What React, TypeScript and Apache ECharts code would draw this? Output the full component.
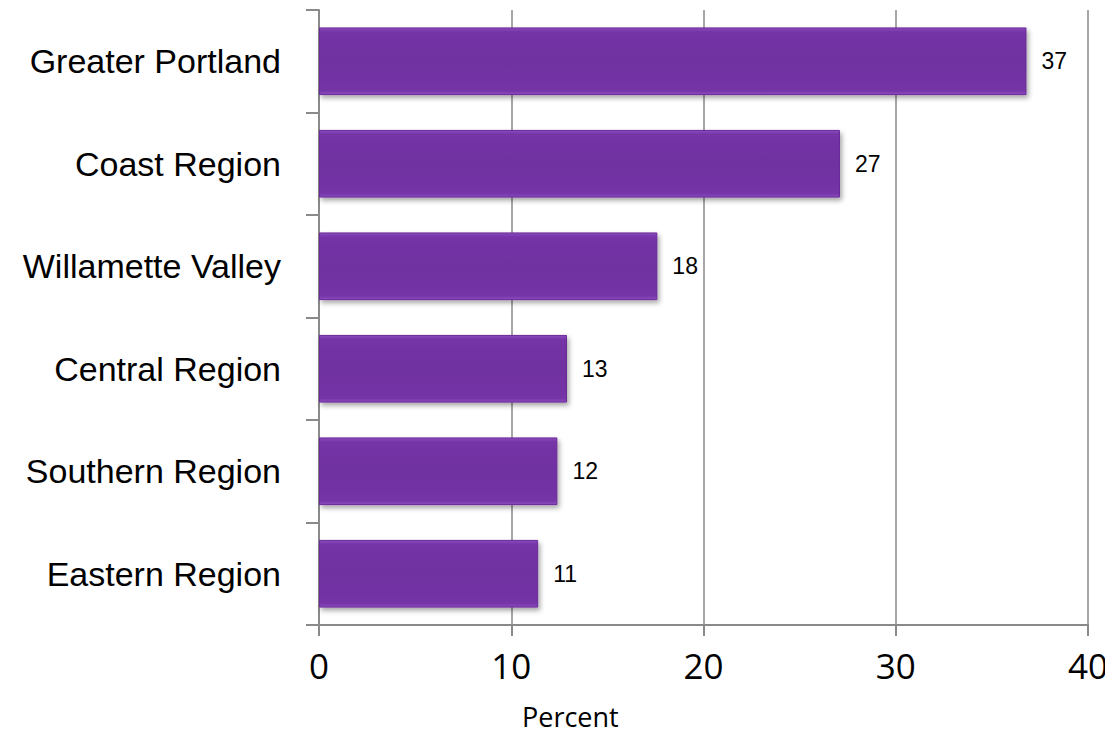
import React, { useEffect, useRef } from "react";
import * as echarts from "echarts";

const categories = [
  "Greater Portland",
  "Coast Region",
  "Willamette Valley",
  "Central Region",
  "Southern Region",
  "Eastern Region",
];
const percentValues = [36.8, 27.1, 17.6, 12.9, 12.4, 11.4];
const xTicks = [0, 10, 20, 30, 40];
const xAxisName = "Percent";

const ARIAL = "'Liberation Sans', Arial, sans-serif";

export default function App() {
  const ref = useRef<HTMLDivElement>(null);
  useEffect(() => {
    if (!ref.current) return;
    const chart = echarts.init(ref.current, null, { renderer: "svg" });
    chart.setOption({
      animation: false,
      grid: { left: 319, right: 25, top: 10, bottom: 110, containLabel: false },
      graphic: [
        {
          type: "text",
          left: 522,
          top: 703,
          style: { text: xAxisName, font: "27px 'Open Sans'", fill: "#000" },
        },
      ],
      xAxis: {
        type: "value",
        min: xTicks[0],
        max: xTicks[xTicks.length - 1],
        interval: 10,
        axisLine: { show: true, lineStyle: { color: "#8a8a8a", width: 2 } },
        axisTick: { show: true, length: 11, lineStyle: { color: "#8a8a8a", width: 2 } },
        axisLabel: { fontFamily: "Open Sans", fontSize: 35, color: "#000", margin: 23 },
        splitLine: { show: true, lineStyle: { color: "#8a8a8a", width: 1.5 } },
      },
      yAxis: {
        type: "category",
        data: categories,
        inverse: true,
        axisLine: { show: true, lineStyle: { color: "#8a8a8a", width: 2 } },
        axisTick: { show: true, length: 13, alignWithLabel: false, lineStyle: { color: "#8a8a8a", width: 2 } },
        axisLabel: {
          fontFamily: ARIAL,
          fontSize: 34,
          color: "#000",
          margin: 38,
        },
        splitLine: { show: false },
      },
      series: [
        {
          type: "bar",
          data: percentValues,
          barWidth: "66%",
          itemStyle: {
            color: {
              type: "linear",
              x: 0,
              y: 0,
              x2: 0,
              y2: 1,
              colorStops: [
                { offset: 0, color: "#8a4cc0" },
                { offset: 0.06, color: "#7434a6" },
                { offset: 0.5, color: "#7030a0" },
                { offset: 0.94, color: "#7434a6" },
                { offset: 1, color: "#8a4cc0" },
              ],
            },
            borderColor: "#6a2b98",
            borderWidth: 1,
            shadowColor: "rgba(0,0,0,0.35)",
            shadowBlur: 5,
            shadowOffsetX: 2,
            shadowOffsetY: 3,
          },
          label: {
            show: true,
            position: "right",
            distance: 15,
            fontFamily: ARIAL,
            fontSize: 23,
            color: "#000",
            formatter: (p: any) => String(Math.round(p.value)),
          },
        },
      ],
    });
    return () => chart.dispose();
  }, []);
  return <div ref={ref} style={{ width: 1113, height: 735, margin: -8 }} />;
}
